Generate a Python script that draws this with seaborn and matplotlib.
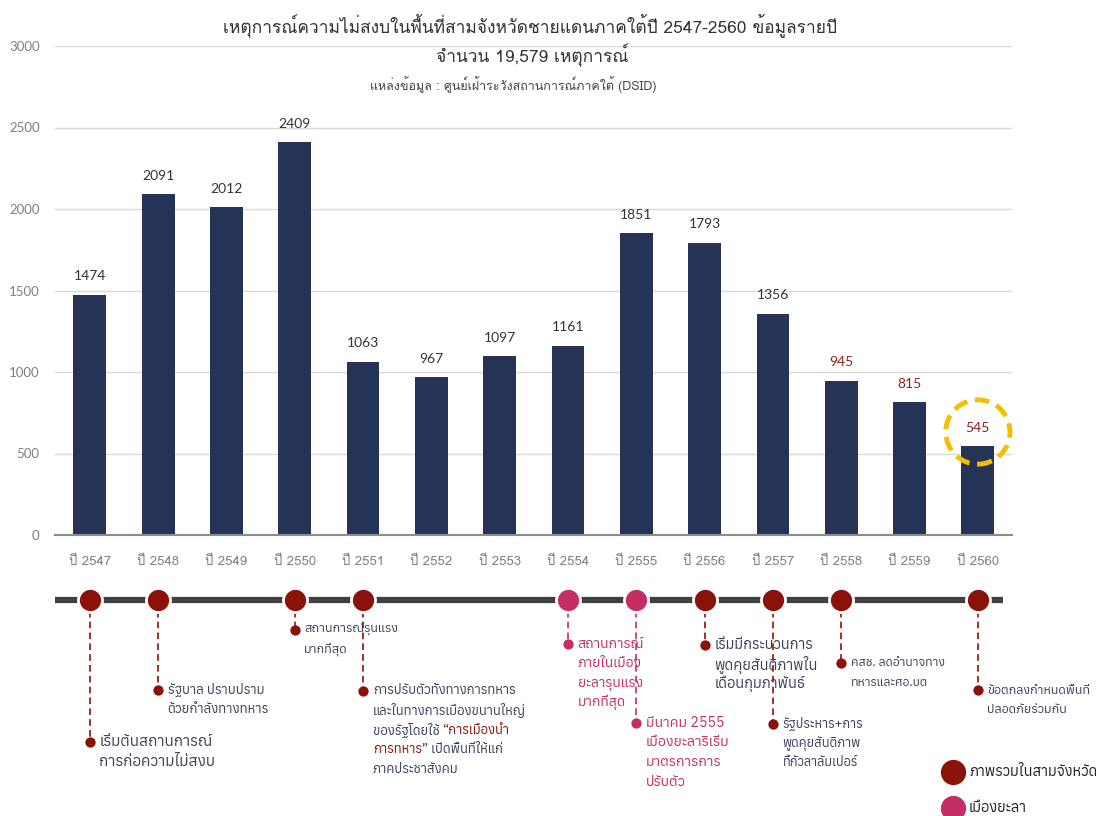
import numpy as np
import pandas as pd
import matplotlib
matplotlib.use("Agg")
import matplotlib.pyplot as plt
import seaborn as sns
from matplotlib.patches import Ellipse

# ---- data -------------------------------------------------------------
years = ['ปี 2547', 'ปี 2548', 'ปี 2549', 'ปี 2550', 'ปี 2551', 'ปี 2552', 'ปี 2553',
         'ปี 2554', 'ปี 2555', 'ปี 2556', 'ปี 2557', 'ปี 2558', 'ปี 2559', 'ปี 2560']
incidents = [1474, 2091, 2012, 2409, 1063, 967, 1097, 1161, 1851, 1793, 1356, 945, 815, 545]
red_label_years = ['ปี 2558', 'ปี 2559', 'ปี 2560']
circled_year = 'ปี 2560'

title_1 = 'เหตุการณ์ความไม่สงบในพื้นที่สามจังหวัดชายแดนภาคใต้ปี 2547-2560 ข้อมูลรายปี'
title_2 = 'จำนวน 19,579 เหตุการณ์'
source = 'แหล่งข้อมูล : ศูนย์เฝ้าระวังสถานการณ์ภาคใต้ (DSID)'

# timeline events ('all' = ภาพรวมในสามจังหวัด, 'yala' = เมืองยะลา)
# text between * is drawn in red
event_years = ['ปี 2547', 'ปี 2548', 'ปี 2550', 'ปี 2551', 'ปี 2554',
               'ปี 2555', 'ปี 2556', 'ปี 2557', 'ปี 2558', 'ปี 2560']
event_scope = ['all', 'all', 'all', 'all', 'yala', 'yala', 'all', 'all', 'all', 'all']
event_text = [
    'เริ่มต้นสถานการณ์\nการก่อความไม่สงบ',
    'รัฐบาล ปราบปราม\nด้วยกำลังทางทหาร',
    'สถานการณ์รุนแรง\nมากที่สุด',
    'การปรับตัวทั้งทางการทหาร\nและในทางการเมืองขนานใหญ่\nของรัฐโดยใช้ *“การเมืองนำ*\n*การทหาร”* เปิดพื้นที่ให้แก่\nภาคประชาสังคม',
    'สถานการณ์\nภายในเมือง\nยะลารุนแรง\nมากที่สุด',
    'มีนาคม 2555\nเมืองยะลาริเริ่ม\nมาตรการการ\nปรับตัว',
    'เริ่มมีกระบวนการ\nพูดคุยสันติภาพใน\nเดือนกุมภาพันธ์',
    'รัฐประหาร+การ\nพูดคุยสันติภาพ\nที่กัวลาลัมเปอร์',
    'คสช. ลดอำนาจทาง\nทหารและศอ.บต',
    'ข้อตกลงกำหนดพื้นที่\nปลอดภัยร่วมกัน',
]
legend_labels = {'all': 'ภาพรวมในสามจังหวัด', 'yala': 'เมืองยะลา'}

# layout only: how far below the timeline each note hangs (pixels)
drop_px = [142, 90, 30, 91, 44, 123, 45, 124, 63, 90]
note_size = [11, 9.5, 9, 9.4, 10, 10.2, 10.5, 9.2, 8.8, 9]

sns.set_style('white')
plt.rcParams['font.family'] = ['Loma', 'DejaVu Sans']
note_font = ['Anuphan', 'Loma', 'DejaVu Sans']
num_font = ['Lato', 'DejaVu Sans']

navy = '#253456'
dark_red = '#8B1209'
pink = '#C42E64'
note_col = '#3A3F5C'
scope_col = {'all': dark_red, 'yala': pink}

fig = plt.figure(figsize=(11, 8.16), dpi=100)
W, H = 1100, 816

# ---- bar chart --------------------------------------------------------
ax = fig.add_axes([55 / W, 1 - 535 / H, (1012 - 55) / W, (535 - 46) / H])
df = pd.DataFrame({'year': years, 'incidents': incidents})
sns.barplot(data=df, x='year', y='incidents', color=navy, width=0.48,
            linewidth=0, saturation=1, ax=ax)
ax.set_xlim(-0.51, 13.5)
ax.set_ylim(0, 3000)
ax.set_yticks(range(0, 3001, 500))
ax.set_xlabel('')
ax.set_ylabel('')
ax.grid(axis='y', color='#d9d9d9', lw=1)
ax.set_axisbelow(True)
for s in ['left', 'right', 'top']:
    ax.spines[s].set_visible(False)
ax.spines['bottom'].set_color('#8c8c8c')
ax.spines['bottom'].set_linewidth(1.5)
ax.tick_params(axis='x', length=0, pad=15, labelsize=9.5, labelcolor='#808080')
ax.tick_params(axis='y', length=0, pad=11, labelsize=9.5, labelcolor='#808080')
for t in ax.get_yticklabels():
    t.set_family(num_font)

labels = ax.bar_label(ax.containers[0], fmt='%d', padding=9, fontsize=10,
                      color='#333333', family=num_font)
for t, yr in zip(labels, years):
    if yr in red_label_years:
        t.set_color('#8B2323')

ci = years.index(circled_year)
ax.add_patch(Ellipse((ci, incidents[ci] + 87), 0.94, 395, fill=False, ec='#F5BE00',
                     lw=3.5, ls=(0, (3, 1.6)), clip_on=False, zorder=5))

# ---- timeline ---------------------------------------------------------
tl = fig.add_axes([55 / W, 0, (1012 - 55) / W, (816 - 580) / H])
tl.set_xlim(ax.get_xlim())
tl.set_ylim(816, 580)
tl.axis('off')
line_y = 600
tl.plot([-0.61, 13.37], [line_y, line_y], color='#404040', lw=4.5,
        solid_capstyle='butt', zorder=1)

for yr, scope, text, drop, size in zip(event_years, event_scope, event_text, drop_px, note_size):
    x = years.index(yr)
    c = scope_col[scope]
    y_dot = line_y + drop
    tl.plot([x, x], [line_y, y_dot], color=c, lw=1.2, ls=(0, (4, 2.5)), zorder=2)
    tl.scatter([x], [line_y], s=300, color=c, edgecolor='white', linewidth=2, zorder=3)
    tl.scatter([x], [y_dot], s=55, color=c, linewidth=0, zorder=3)
    txt_col = pink if scope == 'yala' else note_col
    for i, line in enumerate(text.split('\n')):
        parts = line.split('*')
        prev = None
        for j, part in enumerate(parts):
            if part == '':
                continue
            col = dark_red if j % 2 == 1 else txt_col
            if prev is None:
                prev = tl.text(x + 0.14, y_dot + i * 19.5, part, fontsize=size, color=col,
                               va='center', ha='left', family=note_font, zorder=4)
            else:
                prev = tl.annotate(part, xy=(1, 0), xycoords=prev, va='bottom', ha='left',
                                   fontsize=size, color=col, family=note_font, zorder=4)

# ---- overlay: titles and legend in pixel coords -----------------------
ov = fig.add_axes([0, 0, 1, 1], zorder=10)
ov.set_xlim(0, W)
ov.set_ylim(H, 0)
ov.axis('off')
ov.text(530, 25, title_1, ha='center', va='center', fontsize=12.5, color='#333333')
ov.text(532, 55, title_2, ha='center', va='center', fontsize=12.5, color='#333333')
ov.text(513, 85, source, ha='center', va='center', fontsize=9, color='#444444')
for k, (scope, lab) in enumerate(legend_labels.items()):
    yy = 772 + 36 * k
    ov.scatter([953], [yy], s=330, color=scope_col[scope], linewidth=0)
    ov.text(969, yy, lab, va='center', ha='left', fontsize=10.5, color='#222222',
            family=note_font)

fig.savefig('out.png', dpi=100)
